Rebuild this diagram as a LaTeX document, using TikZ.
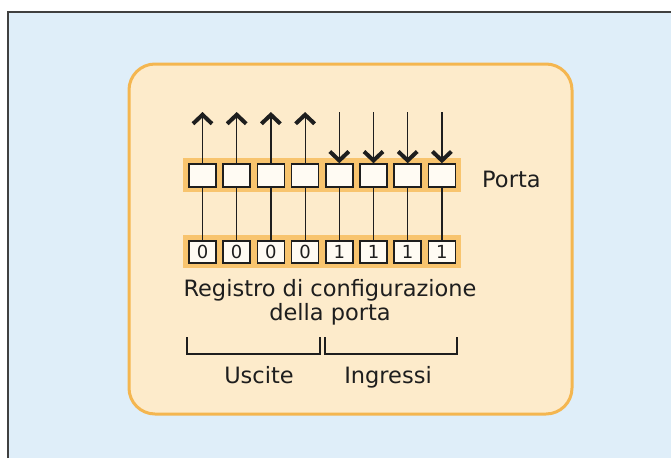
\documentclass[tikz,border=0pt]{standalone}
\usepackage{fontspec}
\setmainfont{DejaVu Sans}
\usetikzlibrary{arrows.meta}
\definecolor{bgblue}{HTML}{DFEEF9}
\definecolor{peach}{HTML}{FDEBCB}
\definecolor{orng}{HTML}{F4B650}
\definecolor{band}{HTML}{F8C46E}
\definecolor{ink}{HTML}{1E1E1E}
\definecolor{cellw}{HTML}{FFFBF3}
\begin{document}
\begin{tikzpicture}[x=1pt,y=-1pt,
  cell/.style={draw=ink,line width=1.5pt,fill=cellw,minimum width=27pt,minimum height=23pt,inner sep=0pt},
  reg/.style={cell,minimum height=22pt,font=\fontsize{18}{18}\selectfont,text=ink},
  wire/.style={draw=ink,line width=1.2pt},
  tip/.style={-{Straight Barb[length=9pt,width=19pt,line width=4pt]}},
  lbl/.style={font=\fontsize{22.5}{24}\selectfont,text=ink,inner sep=0pt},
  brk/.style={draw=ink,line width=1.3pt}
]
\useasboundingbox (0,0) rectangle (671,458);
\fill[white] (0,0) rectangle (671,458);
\fill[bgblue] (8,12) rectangle (671,458);
\draw[ink!85,line width=2pt] (8,458) -- (8,12) -- (671,12);
\draw[orng,fill=peach,line width=3pt,rounded corners=26pt] (129,64) rectangle (572,414);
\fill[band] (183,158) rectangle (461,192);
\fill[band] (183,235) rectangle (461,268);
\foreach \i/\v in {1/0,2/0,3/0,4/0,5/1,6/1,7/1,8/1}{
  \pgfmathsetmacro\cx{168.3+34.2*\i}
  \node[cell] (p\i) at (\cx,175.5) {};
  \node[reg] (r\i) at (\cx,252) {\v};
  \coordinate (a\i) at (\cx,112);
  \draw[wire] (p\i.south) -- (r\i.north);
}
\foreach \i in {1,...,4} \draw[wire,tip] (p\i.north) -- (a\i);
\foreach \i in {5,...,8} \draw[wire,tip] (a\i) -- (p\i.north);
\node[lbl,anchor=base west] (porta) at (482,187) {Porta};
\node[lbl,anchor=base] (regA) at (330,296) {Registro di configurazione};
\node[lbl,anchor=base] (regB) at (330,320) {della porta};
\node[lbl,anchor=base] (usc) at (259,383) {Uscite};
\node[lbl,anchor=base] (ing) at (388,383) {Ingressi};
\coordinate (b1) at (187,337);
\coordinate (b2) at (320,337);
\coordinate (b3) at (325,337);
\coordinate (b4) at (457,337);
\draw[brk] (b1) -- ++(0,17) -| (b2);
\draw[brk] (b3) -- ++(0,17) -| (b4);
\end{tikzpicture}
\end{document}
